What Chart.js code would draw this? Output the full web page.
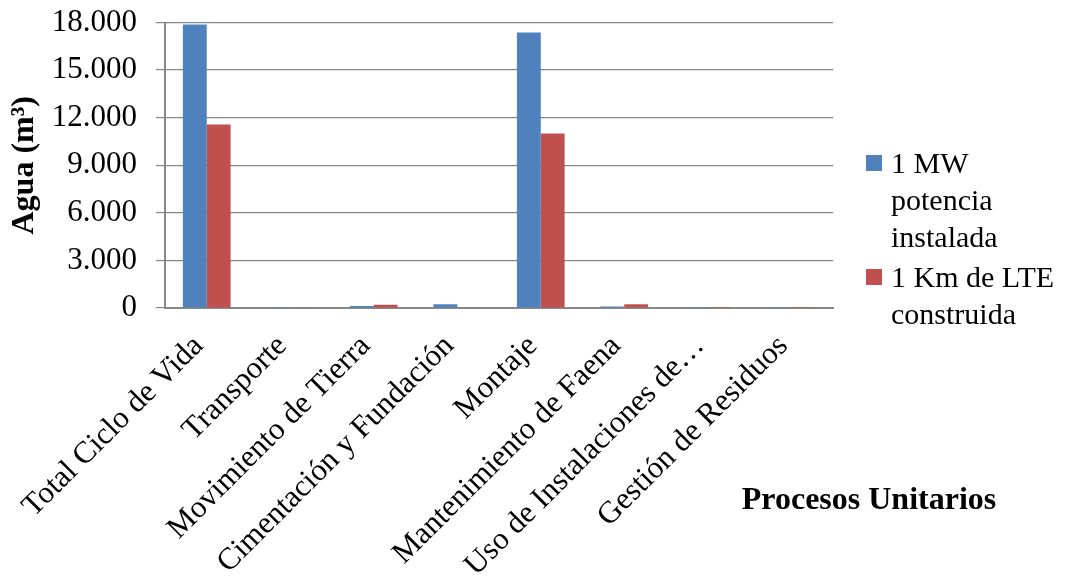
<!DOCTYPE html>
<html lang="es">
<head>
<meta charset="utf-8">
<title>Agua por proceso unitario</title>
<script src="https://cdn.jsdelivr.net/npm/chart.js@4.4.1/dist/chart.umd.min.js"></script>
<style>
  html, body { margin: 0; padding: 0; background: #ffffff; }
  #wrap { width: 1070px; height: 577px; position: relative; }
</style>
</head>
<body>
<div id="wrap"><canvas id="chart"></canvas></div>
<script>
// Procesos unitarios (eje X)
const categories = [
  'Total Ciclo de Vida',
  'Transporte',
  'Movimiento de Tierra',
  'Cimentación y Fundación',
  'Montaje',
  'Mantenimiento de Faena',
  'Uso de Instalaciones de…',
  'Gestión de Residuos'
];

// Consumo de agua (m³) por unidad funcional
const seriesNames = ['1 MW potencia instalada', '1 Km de LTE construida'];
const legendLines = [['1 MW', 'potencia', 'instalada'], ['1 Km de LTE', 'construida']];
const aguaMW  = [17870, 10, 130, 240, 17370, 90, 5, 5];
const aguaLTE = [11570, 10, 210, 15, 11000, 230, 5, 5];

// Marcas del eje Y
const yTickValues = [0, 3000, 6000, 9000, 12000, 15000, 18000];
const yTickLabels = ['0', '3.000', '6.000', '9.000', '12.000', '15.000', '18.000'];

const yTitle = 'Agua (m³)';
const xTitle = 'Procesos Unitarios';

const colors = ['#4F81BD', '#C0504D'];
const FONT = "'Liberation Serif', 'Times New Roman', serif";
const GRID = '#878787';

// Leyenda a la derecha con texto en varias líneas
const sideLegend = {
  id: 'sideLegend',
  afterDraw(chart) {
    const ctx = chart.ctx;
    ctx.save();
    ctx.font = '30px ' + FONT;
    ctx.textBaseline = 'alphabetic';
    ctx.textAlign = 'left';
    const startY = [173, 287];
    chart.data.datasets.forEach((ds, i) => {
      const y0 = startY[i];
      ctx.fillStyle = ds.backgroundColor;
      ctx.fillRect(866, y0 - 18, 16, 16);
      ctx.fillStyle = '#000';
      legendLines[i].forEach((line, k) => {
        ctx.fillText(line, 891, y0 + k * 37);
      });
    });
    ctx.restore();
  }
};

// Título del eje X, a la derecha bajo la leyenda
const xAxisTitle = {
  id: 'xAxisTitle',
  afterDraw(chart) {
    const ctx = chart.ctx;
    ctx.save();
    ctx.font = 'bold 32px ' + FONT;
    ctx.fillStyle = '#000';
    ctx.textAlign = 'center';
    ctx.textBaseline = 'alphabetic';
    ctx.fillText(xTitle, 869, 509);
    ctx.restore();
  }
};

new Chart(document.getElementById('chart'), {
  type: 'bar',
  data: {
    labels: categories,
    datasets: [
      { label: seriesNames[0], data: aguaMW, backgroundColor: colors[0] },
      { label: seriesNames[1], data: aguaLTE, backgroundColor: colors[1] }
    ]
  },
  options: {
    responsive: true,
    maintainAspectRatio: false,
    animation: false,
    devicePixelRatio: 1,
    layout: { padding: { top: 22.5, right: 237, bottom: 0, left: 0 } },
    plugins: {
      legend: { display: false },
      tooltip: { enabled: false }
    },
    datasets: {
      bar: { barPercentage: 1, categoryPercentage: 2 / 3.5 }
    },
    scales: {
      x: {
        grid: { display: false, drawTicks: false },
        border: { display: true, color: GRID, width: 2 },
        ticks: {
          autoSkip: false,
          minRotation: 45,
          maxRotation: 45,
          padding: 20,
          labelOffset: -8,
          color: '#000',
          font: { family: FONT, size: 31 }
        },
        afterFit(scale) {
          scale.height = 269;
          scale.paddingLeft = 0;
          scale.paddingRight = 0;
        }
      },
      y: {
        min: 0,
        max: 18000,
        afterBuildTicks(scale) {
          scale.ticks = yTickValues.map(v => ({ value: v }));
        },
        grid: { color: GRID, lineWidth: 1.2, tickLength: 9, tickColor: GRID },
        border: { display: true, color: GRID, width: 2 },
        ticks: {
          padding: 19,
          color: '#000',
          font: { family: FONT, size: 31 },
          callback: (v) => yTickLabels[yTickValues.indexOf(v)]
        },
        title: {
          display: true,
          text: yTitle,
          color: '#000',
          font: { family: FONT, size: 32, weight: 'bold' },
          padding: { top: 6, bottom: 0 }
        },
        afterFit(scale) {
          scale.width = 165;
          scale.paddingTop = 0;
          scale.paddingBottom = 0;
        }
      }
    }
  },
  plugins: [sideLegend, xAxisTitle]
});
</script>
</body>
</html>
